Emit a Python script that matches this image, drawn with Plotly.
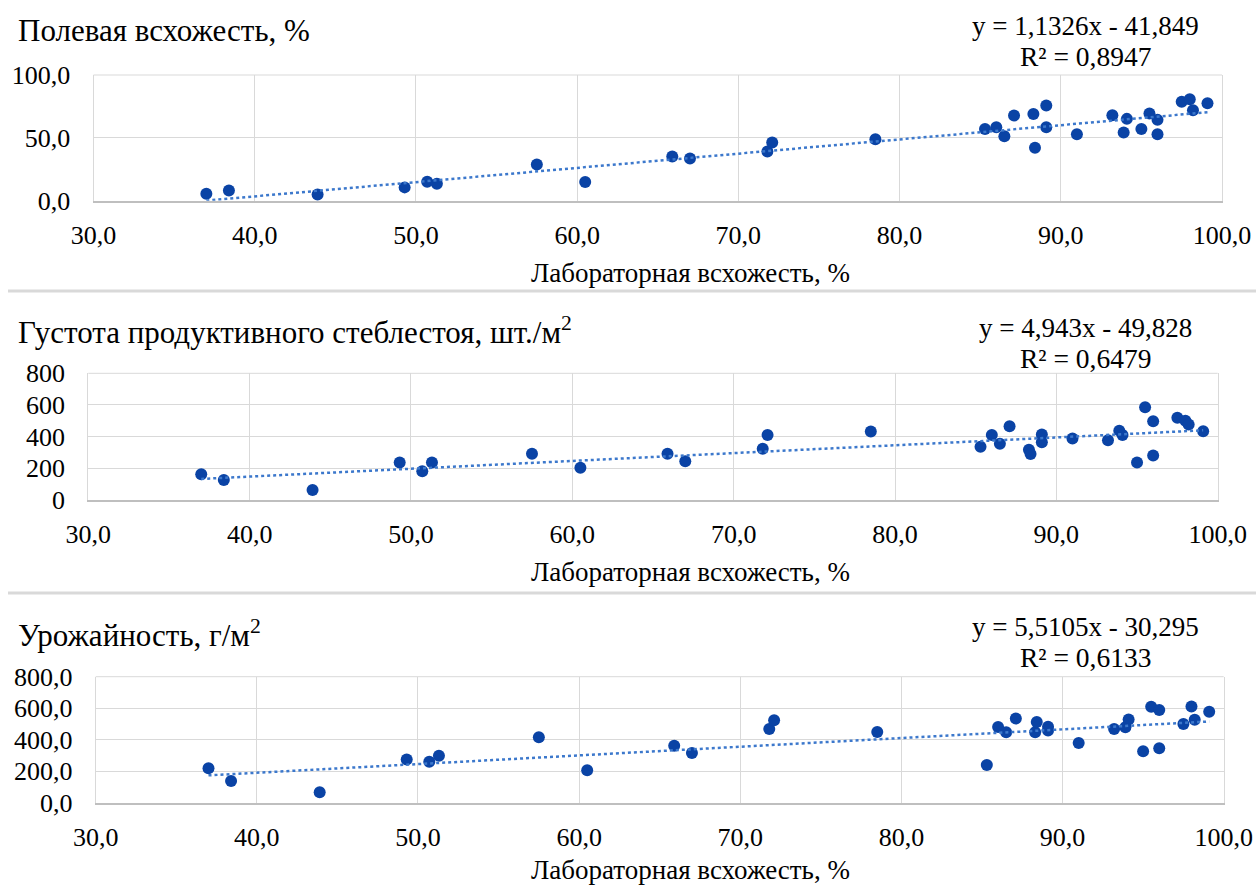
import numpy as np
import plotly.graph_objects as go

# Лабораторная всхожесть, % (общая ось X для всех трёх графиков)
lab_germination = [37.0, 38.4, 43.9, 49.3, 50.7, 51.3, 57.5, 60.5, 65.9, 67.0,
                   71.8, 72.1, 78.5, 85.3, 86.0, 86.5, 87.1, 88.3, 88.4, 89.1,
                   89.1, 91.0, 93.2, 93.9, 94.1, 95.0, 95.5, 96.0, 96.0, 97.5,
                   98.0, 98.2, 99.1]

# Полевая всхожесть, %
field_germination = [5.6, 8.2, 5.0, 10.6, 15.1, 13.5, 28.8, 14.8, 35.2, 33.6,
                     39.2, 46.3, 48.9, 57.1, 58.5, 51.3, 67.7, 69.0, 42.1, 75.7,
                     58.5, 52.9, 68.0, 54.2, 65.1, 57.1, 69.3, 64.3, 52.9, 78.8,
                     80.7, 72.0, 77.5]

# Густота продуктивного стеблестоя, шт./м2
stem_density = [163, 127, 63, 237, 182, 237, 292, 203, 292, 245,
                324, 410, 432, 336, 410, 355, 465, 317, 290, 413,
                364, 389, 377, 438, 410, 237, 586, 497, 281, 520,
                501, 476, 434]

# Урожайность, г/м2
yield_gm2 = [219, 138, 66, 274, 260, 298, 415, 206, 362, 315,
             468, 523, 449, 240, 481, 447, 534, 447, 513, 483,
             458, 379, 468, 479, 528, 326, 609, 589, 345, 500,
             611, 526, 577]

# Линейные тренды: y = a*x + b, R²
slopes = [1.1326, 4.943, 5.5105]
intercepts = [-41.849, -49.828, -30.295]
r_squared = [0.8947, 0.6479, 0.6133]

titles = ["Полевая всхожесть, %",
          "Густота продуктивного стеблестоя, шт./м<sup>2</sup>",
          "Урожайность, г/м<sup>2</sup>"]
x_title = "Лабораторная всхожесть, %"
x_ticks = [30, 40, 50, 60, 70, 80, 90, 100]
y_ranges = [[0, 100], [0, 800], [0, 800]]
y_dticks = [50, 200, 200]
y_formats = [".1f", ".0f", ".1f"]
series = [field_germination, stem_density, yield_gm2]

W, H = 1256, 887
FONT = "Liberation Serif"
MARKER = "#0A43A5"
TREND = "#3C78CC"
GRID = "#D9D9D9"


def px(x):
    return x / W


def py(y):
    return 1 - y / H


# Пиксельная геометрия панелей: (лево, право, верх, низ)
panels = [(93.5, 1222.0, 75.0, 200.7),
          (88.3, 1217.7, 373.3, 500.0),
          (95.7, 1223.7, 676.7, 802.7)]
title_y = [30, 330, 633]
eq_y = [26, 328, 627]
x_title_y = [273, 572, 870]
separators = [291, 593]

fig = go.Figure()
annotations = []


def label(text, x, y, size, anchor="center"):
    return dict(text=text, xref="paper", yref="paper",
                x=px(x), y=py(y), xanchor=anchor, yanchor="middle",
                showarrow=False,
                font=dict(family=FONT, size=size, color="black"))


for i, (ys, (l, r, t, b)) in enumerate(zip(series, panels)):
    n = "" if i == 0 else str(i + 1)
    xa, ya = "x" + n, "y" + n

    fig.add_trace(go.Scatter(
        x=lab_germination, y=ys, mode="markers",
        marker=dict(color=MARKER, size=12),
        xaxis=xa, yaxis=ya, showlegend=False, cliponaxis=False))

    x_line = np.array([min(lab_germination), max(lab_germination)])
    y_line = slopes[i] * x_line + intercepts[i]
    fig.add_trace(go.Scatter(
        x=x_line, y=y_line, mode="lines",
        line=dict(color=TREND, width=2.5, dash="dot"),
        xaxis=xa, yaxis=ya, showlegend=False))

    axis_common = dict(
        showgrid=True, gridcolor=GRID, gridwidth=1, zeroline=False,
        automargin=False, ticks="",
        tickfont=dict(family=FONT, size=26, color="black"))

    fig.update_layout(**{
        "xaxis" + n: dict(
            axis_common, domain=[px(l), px(r)], anchor=ya,
            range=[30, 100], tickvals=x_ticks, tickformat=".1f",
            showline=True, linecolor="#BFBFBF", linewidth=1.5,
            mirror=False, ticklabelstandoff=10),
        "yaxis" + n: dict(
            axis_common, domain=[py(b), py(t)], anchor=xa,
            range=y_ranges[i], dtick=y_dticks[i], tickformat=y_formats[i],
            showline=True, linecolor=GRID, linewidth=1, mirror=True,
            ticklabelstandoff=17),
    })

    # верхняя граница области построения
    fig.add_shape(type="line", xref="paper", yref="paper",
                  x0=px(l), x1=px(r), y0=py(t), y1=py(t),
                  line=dict(color=GRID, width=1))

    annotations.append(label(titles[i], 16, title_y[i], 31, "left"))

    eq = f"y = {slopes[i]}x - {abs(intercepts[i])}".replace(".", ",")
    r2 = f"R² = {r_squared[i]}".replace(".", ",")
    annotations.append(label(eq, 1085, eq_y[i], 27))
    annotations.append(label(r2, 1085, eq_y[i] + 30, 27.5))

    annotations.append(label(x_title, 690, x_title_y[i], 27))

for s in separators:
    fig.add_shape(type="line", xref="paper", yref="paper",
                  x0=px(8), x1=1, y0=py(s), y1=py(s),
                  line=dict(color=GRID, width=3))

fig.update_layout(
    width=W, height=H, autosize=False,
    margin=dict(l=0, r=0, t=0, b=0, pad=0),
    paper_bgcolor="white", plot_bgcolor="white",
    separators=", ",
    annotations=annotations,
    font=dict(family=FONT, color="black"),
)

fig.write_html("out.html")
